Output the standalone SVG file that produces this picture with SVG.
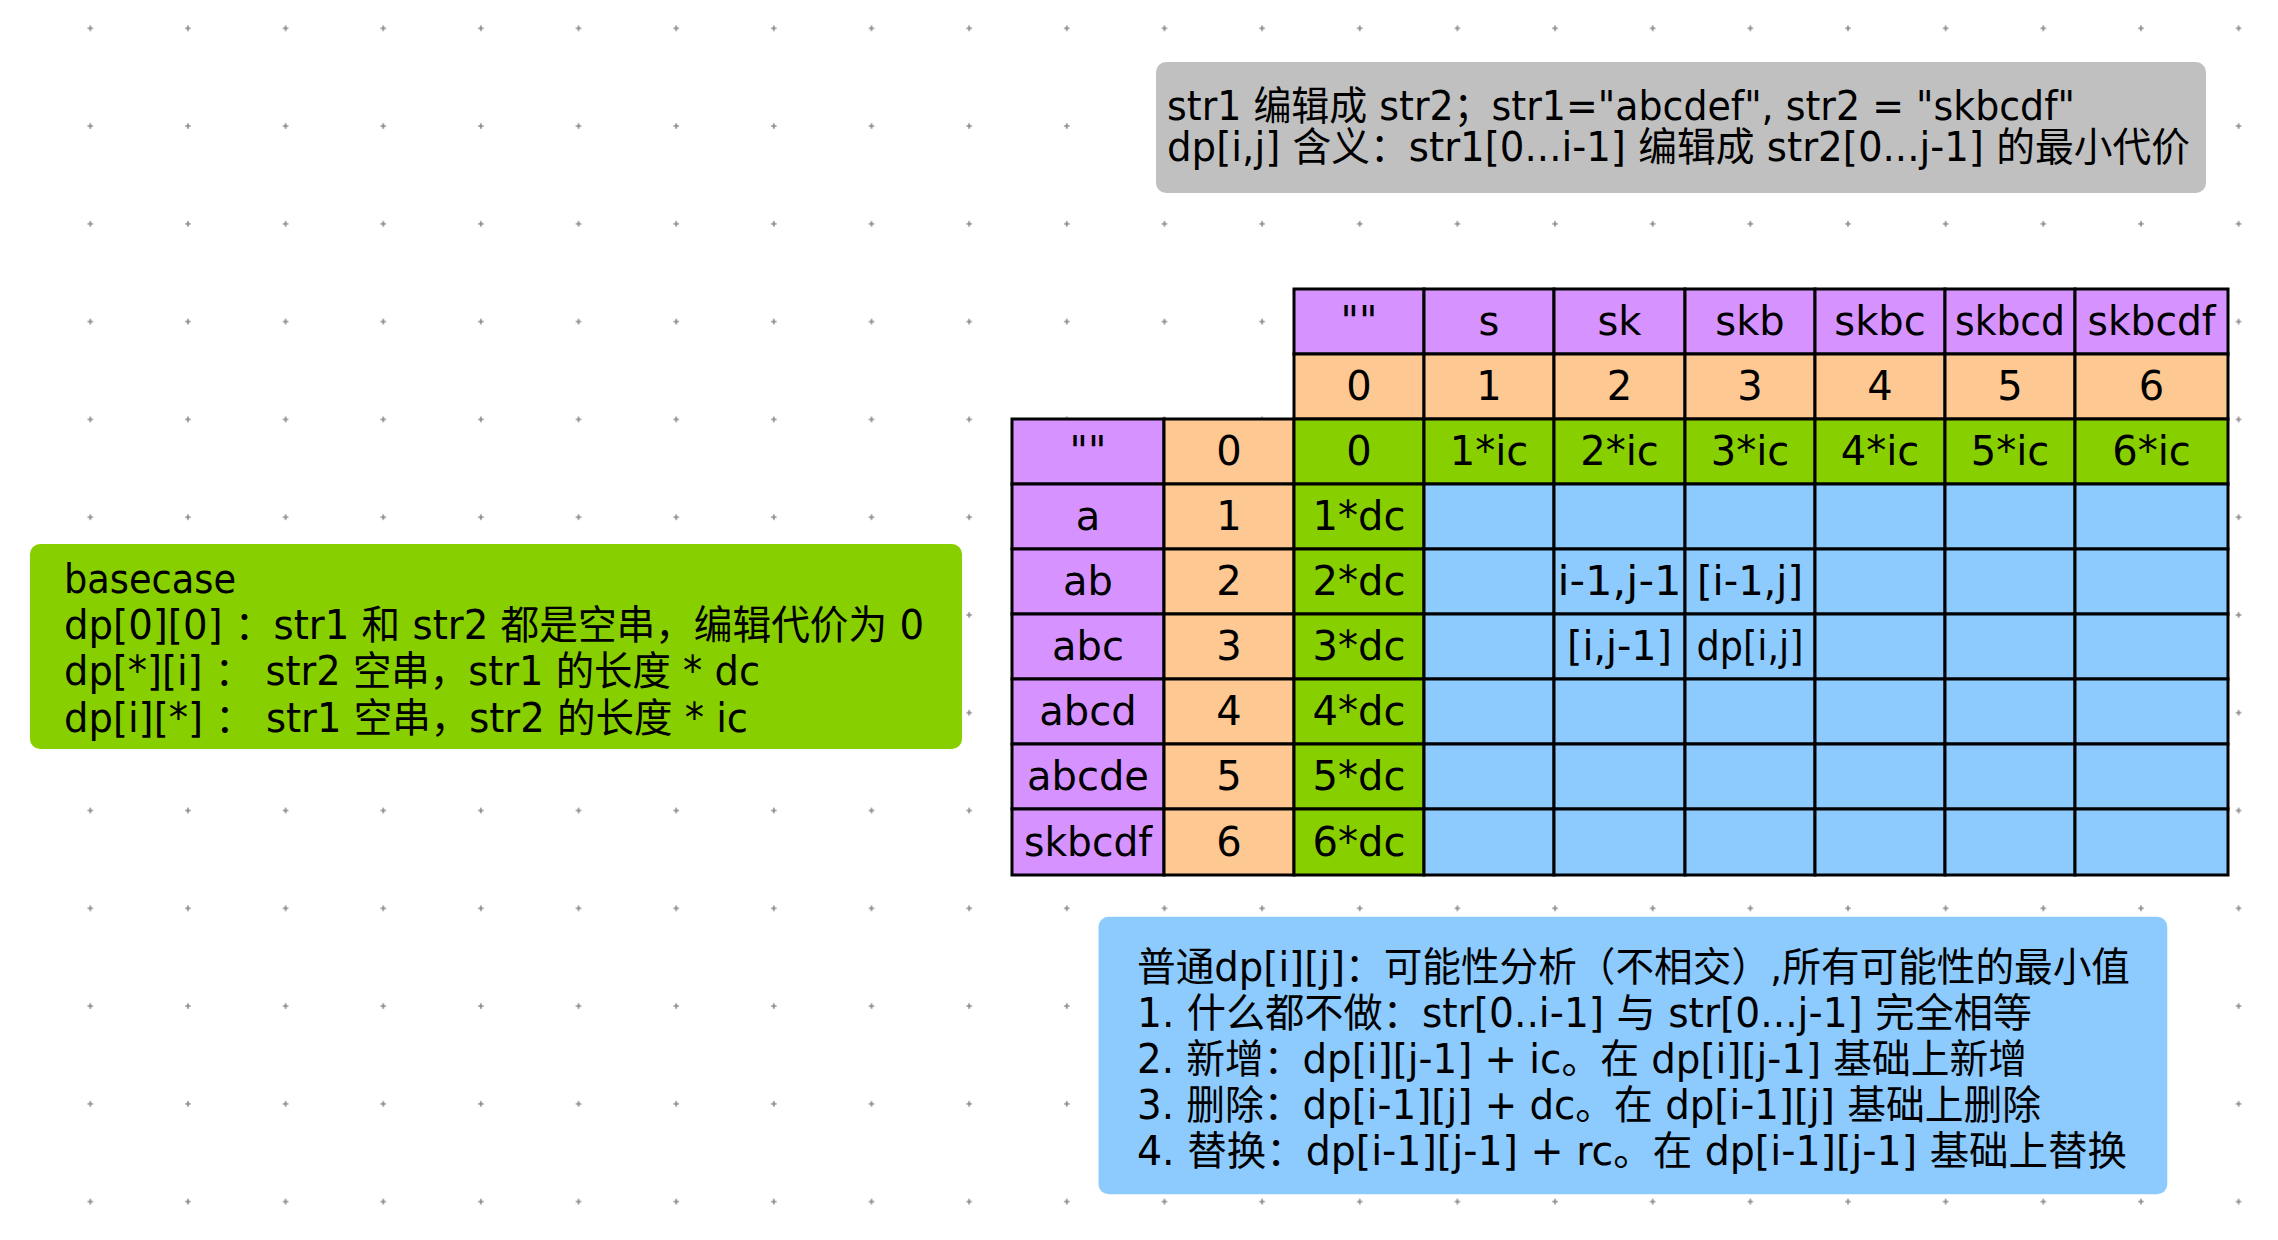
<svg xmlns="http://www.w3.org/2000/svg" width="2278" height="1240" viewBox="0 0 2278 1240">
<defs>
<pattern id="dots" patternUnits="userSpaceOnUse" x="41.5" y="-20.6" width="97.65" height="97.78">
<path d="M48.8,46.2v5.4M46.1,48.9h5.4" stroke="#8a8a8a" stroke-width="1.6" fill="none"/>
</pattern>
<style>
.t{font-family:"DejaVu Sans","Noto Sans CJK SC",sans-serif;font-size:40px;fill:#000}
.n{font-size:40px}
.c{text-anchor:middle}
.cell{stroke:#000;stroke-width:3}
.pu{fill:#D692FF}.pe{fill:#FDC892}.gr{fill:#88CF00}.bl{fill:#8DCBFF}
.note{stroke:none}
</style>
</defs>
<rect width="2278" height="1240" fill="#fff"/>
<rect width="2278" height="1240" fill="url(#dots)"/>

<g id="note-title">
<rect class="note" x="1156" y="62" width="1050" height="131" rx="10" fill="#C0C0C0"/>
<text class="t n" x="1167" y="119.5" textLength="908" lengthAdjust="spacingAndGlyphs">str1 编辑成 str2；str1="abcdef", str2 = "skbcdf"</text>
<text class="t n" x="1167" y="161" textLength="1023" lengthAdjust="spacingAndGlyphs">dp[i,j] 含义：str1[0...i-1] 编辑成 str2[0...j-1] 的最小代价</text>
</g>

<g id="note-basecase">
<rect class="note" x="30" y="544" width="932" height="205" rx="10" fill="#88CF00"/>
<text class="t n" x="64" y="593" textLength="172" lengthAdjust="spacingAndGlyphs">basecase</text>
<text class="t n" x="64" y="638.5" textLength="860" lengthAdjust="spacingAndGlyphs">dp[0][0] ：str1 和 str2 都是空串，编辑代价为 0</text>
<text class="t n" x="64" y="685" textLength="696" lengthAdjust="spacingAndGlyphs">dp[*][i] ： str2 空串，str1 的长度 * dc</text>
<text class="t n" x="64" y="731.5" textLength="684" lengthAdjust="spacingAndGlyphs">dp[i][*] ： str1 空串，str2 的长度 * ic</text>
</g>

<g id="note-general">
<rect class="note" x="1098.5" y="916.7" width="1068.8" height="277.6" rx="10" fill="#8DCBFF"/>
<text class="t n" x="1137" y="981" textLength="993" lengthAdjust="spacingAndGlyphs">普通dp[i][j]：可能性分析（不相交）,所有可能性的最小值</text>
<text class="t n" x="1137" y="1027" textLength="895" lengthAdjust="spacingAndGlyphs">1. 什么都不做：str[0..i-1] 与 str[0...j-1] 完全相等</text>
<text class="t n" x="1137" y="1073" textLength="890" lengthAdjust="spacingAndGlyphs">2. 新增：dp[i][j-1] + ic。在 dp[i][j-1] 基础上新增</text>
<text class="t n" x="1137" y="1119" textLength="904" lengthAdjust="spacingAndGlyphs">3. 删除：dp[i-1][j] + dc。在 dp[i-1][j] 基础上删除</text>
<text class="t n" x="1137" y="1165" textLength="990" lengthAdjust="spacingAndGlyphs">4. 替换：dp[i-1][j-1] + rc。在 dp[i-1][j-1] 基础上替换</text>
</g>

<g id="table">
<!-- row 0: str2 prefixes -->
<g id="h-c2"><rect class="cell pu" x="1294" y="289" width="130" height="65"/><text class="t c" x="1359" y="335">""</text></g>
<g id="h-c3"><rect class="cell pu" x="1424" y="289" width="130" height="65"/><text class="t c" x="1489" y="335">s</text></g>
<g id="h-c4"><rect class="cell pu" x="1554" y="289" width="131" height="65"/><text class="t c" x="1619.5" y="335">sk</text></g>
<g id="h-c5"><rect class="cell pu" x="1685" y="289" width="130" height="65"/><text class="t c" x="1750" y="335">skb</text></g>
<g id="h-c6"><rect class="cell pu" x="1815" y="289" width="130" height="65"/><text class="t c" x="1880" y="335">skbc</text></g>
<g id="h-c7"><rect class="cell pu" x="1945" y="289" width="130" height="65"/><text class="t c" x="2010" y="335" textLength="110" lengthAdjust="spacingAndGlyphs">skbcd</text></g>
<g id="h-c8"><rect class="cell pu" x="2075" y="289" width="153" height="65"/><text class="t c" x="2151.5" y="335" textLength="128" lengthAdjust="spacingAndGlyphs">skbcdf</text></g>
<!-- row 1: j indices -->
<g id="j-0"><rect class="cell pe" x="1294" y="354" width="130" height="65"/><text class="t c" x="1359" y="400">0</text></g>
<g id="j-1"><rect class="cell pe" x="1424" y="354" width="130" height="65"/><text class="t c" x="1489" y="400">1</text></g>
<g id="j-2"><rect class="cell pe" x="1554" y="354" width="131" height="65"/><text class="t c" x="1619.5" y="400">2</text></g>
<g id="j-3"><rect class="cell pe" x="1685" y="354" width="130" height="65"/><text class="t c" x="1750" y="400">3</text></g>
<g id="j-4"><rect class="cell pe" x="1815" y="354" width="130" height="65"/><text class="t c" x="1880" y="400">4</text></g>
<g id="j-5"><rect class="cell pe" x="1945" y="354" width="130" height="65"/><text class="t c" x="2010" y="400">5</text></g>
<g id="j-6"><rect class="cell pe" x="2075" y="354" width="153" height="65"/><text class="t c" x="2151.5" y="400">6</text></g>
<!-- row 2 -->
<g id="r0-s"><rect class="cell pu" x="1012" y="419" width="152" height="65"/><text class="t c" x="1088" y="465">""</text></g>
<g id="r0-i"><rect class="cell pe" x="1164" y="419" width="130" height="65"/><text class="t c" x="1229" y="465">0</text></g>
<g id="r0-0"><rect class="cell gr" x="1294" y="419" width="130" height="65"/><text class="t c" x="1359" y="465">0</text></g>
<g id="r0-1"><rect class="cell gr" x="1424" y="419" width="130" height="65"/><text class="t c" x="1489" y="465">1*ic</text></g>
<g id="r0-2"><rect class="cell gr" x="1554" y="419" width="131" height="65"/><text class="t c" x="1619.5" y="465">2*ic</text></g>
<g id="r0-3"><rect class="cell gr" x="1685" y="419" width="130" height="65"/><text class="t c" x="1750" y="465">3*ic</text></g>
<g id="r0-4"><rect class="cell gr" x="1815" y="419" width="130" height="65"/><text class="t c" x="1880" y="465">4*ic</text></g>
<g id="r0-5"><rect class="cell gr" x="1945" y="419" width="130" height="65"/><text class="t c" x="2010" y="465">5*ic</text></g>
<g id="r0-6"><rect class="cell gr" x="2075" y="419" width="153" height="65"/><text class="t c" x="2151.5" y="465">6*ic</text></g>
<!-- row 3 -->
<g id="r1-s"><rect class="cell pu" x="1012" y="484" width="152" height="65"/><text class="t c" x="1088" y="530">a</text></g>
<g id="r1-i"><rect class="cell pe" x="1164" y="484" width="130" height="65"/><text class="t c" x="1229" y="530">1</text></g>
<g id="r1-0"><rect class="cell gr" x="1294" y="484" width="130" height="65"/><text class="t c" x="1359" y="530">1*dc</text></g>
<g id="r1-1"><rect class="cell bl" x="1424" y="484" width="130" height="65"/></g>
<g id="r1-2"><rect class="cell bl" x="1554" y="484" width="131" height="65"/></g>
<g id="r1-3"><rect class="cell bl" x="1685" y="484" width="130" height="65"/></g>
<g id="r1-4"><rect class="cell bl" x="1815" y="484" width="130" height="65"/></g>
<g id="r1-5"><rect class="cell bl" x="1945" y="484" width="130" height="65"/></g>
<g id="r1-6"><rect class="cell bl" x="2075" y="484" width="153" height="65"/></g>
<!-- row 4 -->
<g id="r2-s"><rect class="cell pu" x="1012" y="549" width="152" height="65"/><text class="t c" x="1088" y="595">ab</text></g>
<g id="r2-i"><rect class="cell pe" x="1164" y="549" width="130" height="65"/><text class="t c" x="1229" y="595">2</text></g>
<g id="r2-0"><rect class="cell gr" x="1294" y="549" width="130" height="65"/><text class="t c" x="1359" y="595">2*dc</text></g>
<g id="r2-1"><rect class="cell bl" x="1424" y="549" width="130" height="65"/></g>
<g id="r2-2"><rect class="cell bl" x="1554" y="549" width="131" height="65"/><text class="t c" x="1619.5" y="595" textLength="124" lengthAdjust="spacingAndGlyphs">i-1,j-1</text></g>
<g id="r2-3"><rect class="cell bl" x="1685" y="549" width="130" height="65"/><text class="t c" x="1750" y="595" textLength="106" lengthAdjust="spacingAndGlyphs">[i-1,j]</text></g>
<g id="r2-4"><rect class="cell bl" x="1815" y="549" width="130" height="65"/></g>
<g id="r2-5"><rect class="cell bl" x="1945" y="549" width="130" height="65"/></g>
<g id="r2-6"><rect class="cell bl" x="2075" y="549" width="153" height="65"/></g>
<!-- row 5 -->
<g id="r3-s"><rect class="cell pu" x="1012" y="614" width="152" height="65"/><text class="t c" x="1088" y="660">abc</text></g>
<g id="r3-i"><rect class="cell pe" x="1164" y="614" width="130" height="65"/><text class="t c" x="1229" y="660">3</text></g>
<g id="r3-0"><rect class="cell gr" x="1294" y="614" width="130" height="65"/><text class="t c" x="1359" y="660">3*dc</text></g>
<g id="r3-1"><rect class="cell bl" x="1424" y="614" width="130" height="65"/></g>
<g id="r3-2"><rect class="cell bl" x="1554" y="614" width="131" height="65"/><text class="t c" x="1619.5" y="660" textLength="105" lengthAdjust="spacingAndGlyphs">[i,j-1]</text></g>
<g id="r3-3"><rect class="cell bl" x="1685" y="614" width="130" height="65"/><text class="t c" x="1750" y="660" textLength="107" lengthAdjust="spacingAndGlyphs">dp[i,j]</text></g>
<g id="r3-4"><rect class="cell bl" x="1815" y="614" width="130" height="65"/></g>
<g id="r3-5"><rect class="cell bl" x="1945" y="614" width="130" height="65"/></g>
<g id="r3-6"><rect class="cell bl" x="2075" y="614" width="153" height="65"/></g>
<!-- row 6 -->
<g id="r4-s"><rect class="cell pu" x="1012" y="679" width="152" height="65"/><text class="t c" x="1088" y="725">abcd</text></g>
<g id="r4-i"><rect class="cell pe" x="1164" y="679" width="130" height="65"/><text class="t c" x="1229" y="725">4</text></g>
<g id="r4-0"><rect class="cell gr" x="1294" y="679" width="130" height="65"/><text class="t c" x="1359" y="725">4*dc</text></g>
<g id="r4-1"><rect class="cell bl" x="1424" y="679" width="130" height="65"/></g>
<g id="r4-2"><rect class="cell bl" x="1554" y="679" width="131" height="65"/></g>
<g id="r4-3"><rect class="cell bl" x="1685" y="679" width="130" height="65"/></g>
<g id="r4-4"><rect class="cell bl" x="1815" y="679" width="130" height="65"/></g>
<g id="r4-5"><rect class="cell bl" x="1945" y="679" width="130" height="65"/></g>
<g id="r4-6"><rect class="cell bl" x="2075" y="679" width="153" height="65"/></g>
<!-- row 7 -->
<g id="r5-s"><rect class="cell pu" x="1012" y="744" width="152" height="65"/><text class="t c" x="1088" y="790">abcde</text></g>
<g id="r5-i"><rect class="cell pe" x="1164" y="744" width="130" height="65"/><text class="t c" x="1229" y="790">5</text></g>
<g id="r5-0"><rect class="cell gr" x="1294" y="744" width="130" height="65"/><text class="t c" x="1359" y="790">5*dc</text></g>
<g id="r5-1"><rect class="cell bl" x="1424" y="744" width="130" height="65"/></g>
<g id="r5-2"><rect class="cell bl" x="1554" y="744" width="131" height="65"/></g>
<g id="r5-3"><rect class="cell bl" x="1685" y="744" width="130" height="65"/></g>
<g id="r5-4"><rect class="cell bl" x="1815" y="744" width="130" height="65"/></g>
<g id="r5-5"><rect class="cell bl" x="1945" y="744" width="130" height="65"/></g>
<g id="r5-6"><rect class="cell bl" x="2075" y="744" width="153" height="65"/></g>
<!-- row 8 -->
<g id="r6-s"><rect class="cell pu" x="1012" y="809" width="152" height="66"/><text class="t c" x="1088" y="855.5" textLength="128" lengthAdjust="spacingAndGlyphs">skbcdf</text></g>
<g id="r6-i"><rect class="cell pe" x="1164" y="809" width="130" height="66"/><text class="t c" x="1229" y="855.5">6</text></g>
<g id="r6-0"><rect class="cell gr" x="1294" y="809" width="130" height="66"/><text class="t c" x="1359" y="855.5">6*dc</text></g>
<g id="r6-1"><rect class="cell bl" x="1424" y="809" width="130" height="66"/></g>
<g id="r6-2"><rect class="cell bl" x="1554" y="809" width="131" height="66"/></g>
<g id="r6-3"><rect class="cell bl" x="1685" y="809" width="130" height="66"/></g>
<g id="r6-4"><rect class="cell bl" x="1815" y="809" width="130" height="66"/></g>
<g id="r6-5"><rect class="cell bl" x="1945" y="809" width="130" height="66"/></g>
<g id="r6-6"><rect class="cell bl" x="2075" y="809" width="153" height="66"/></g>
</g>

<g id="connectors"></g>
</svg>
